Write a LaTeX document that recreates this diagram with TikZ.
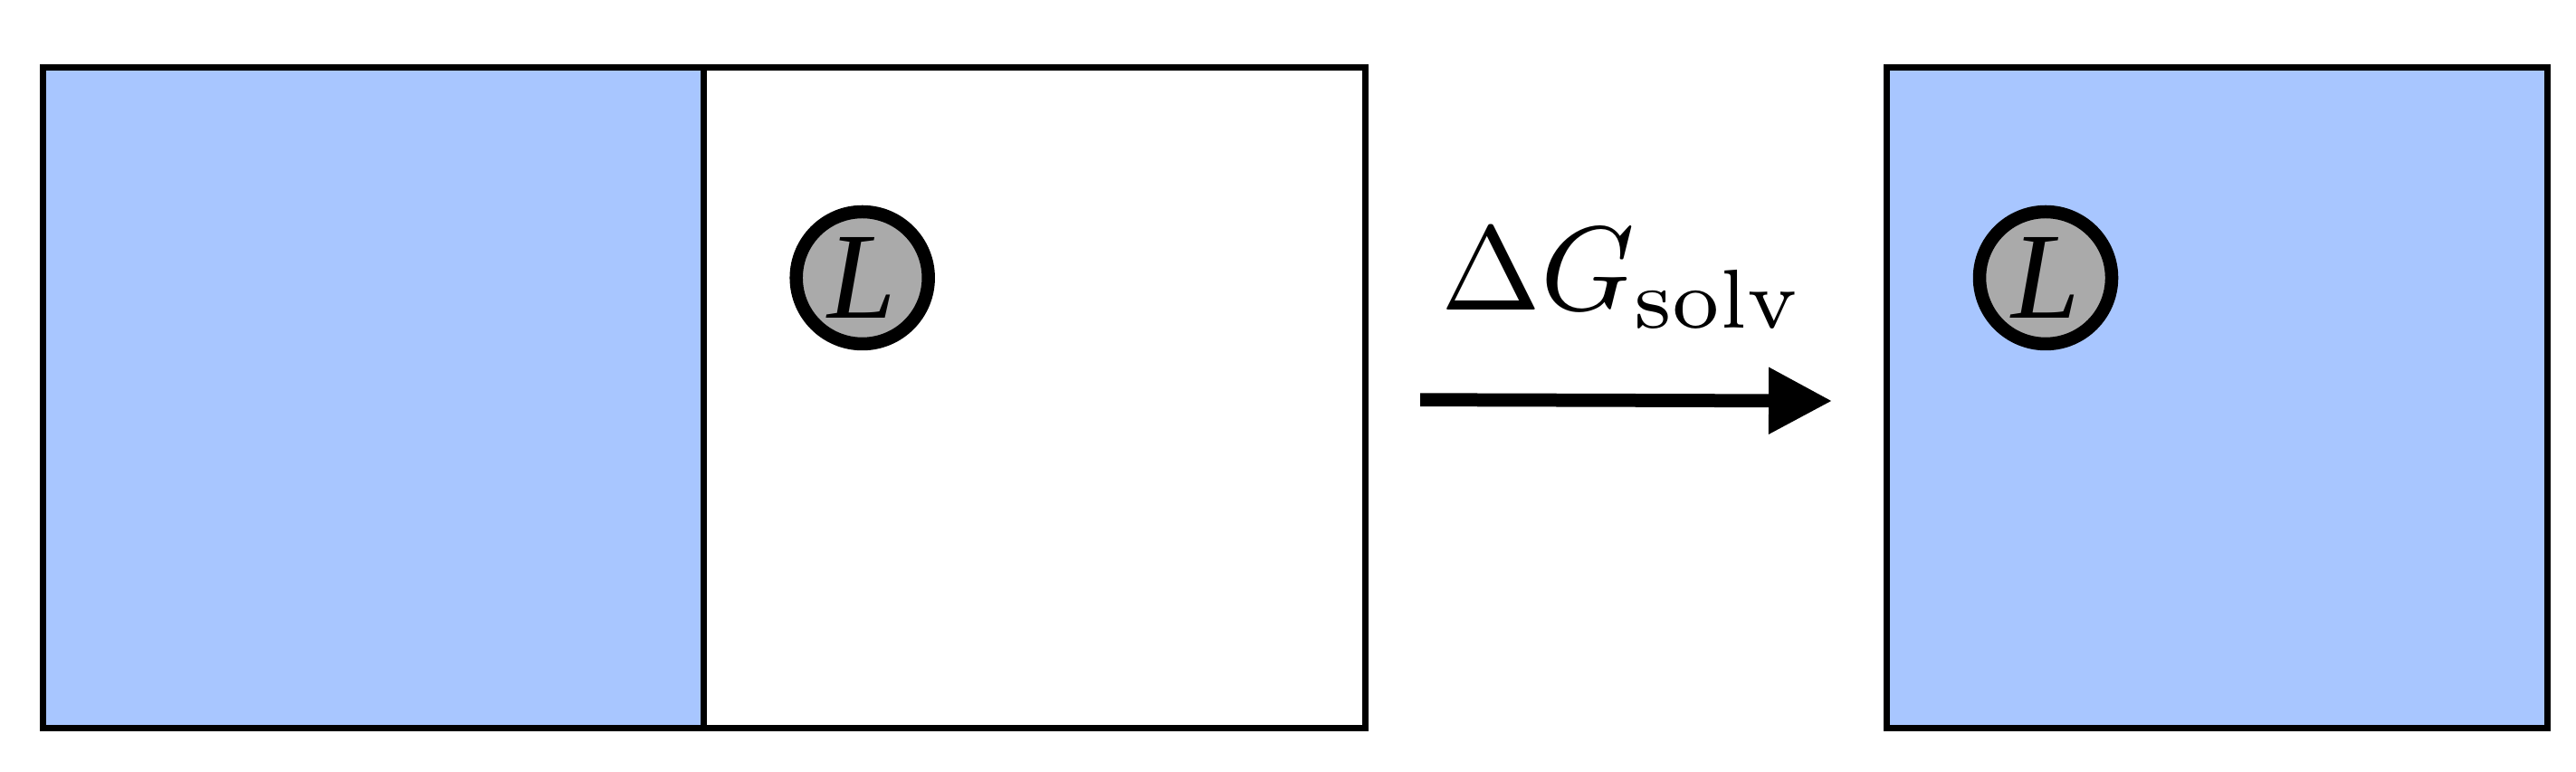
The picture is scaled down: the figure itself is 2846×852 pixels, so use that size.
\documentclass[tikz,border=0pt]{standalone}
\usepackage{graphicx}
\usepackage[no-math]{fontspec}
\newfontfamily\ligfont{Liberation Serif}
\usetikzlibrary{arrows.meta}
\definecolor{solvblue}{RGB}{168,198,255}
\definecolor{ligandgray}{RGB}{170,170,170}
\tikzset{
  boxline/.style={draw=black, line width=1.4pt, line join=miter},
  ligand/.style={circle, draw=black, fill=ligandgray, line width=2.9pt, minimum size=29.2pt, inner sep=0pt, font=\ligfont\itshape\fontsize{27.2}{32}\selectfont},
  bigarrow/.style={line width=2.95pt, -{Triangle[length=14pt,width=14pt]}},
  lbl/.style={inner sep=0pt}
}
\begin{document}
\begin{tikzpicture}[x=0.2pt,y=0.2pt]
\useasboundingbox (0,0) rectangle (2846,852);
% left: solvent + vacuum
\draw[boxline, fill=solvblue] (47,47.5) rectangle (777.5,777.5);
\draw[boxline, fill=white] (777.5,47.5) rectangle (1508,777.5);
\node[ligand] (L1) at (952.7,545) {L};
% right: solvated
\draw[boxline, fill=solvblue] (2084,47.5) rectangle (2814.5,777.5);
\node[ligand] (L2) at (2260,545) {L};
% arrow
\coordinate (a0) at (1569,410.3);
\coordinate (a1) at (2024,409);
\draw[bigarrow] (a0) -- (a1);
\node[lbl, anchor=base west] (dg) at (1591,509) {\scalebox{2.64}{$\Delta G_{\mathrm{solv}}$}};
\end{tikzpicture}
\end{document}
